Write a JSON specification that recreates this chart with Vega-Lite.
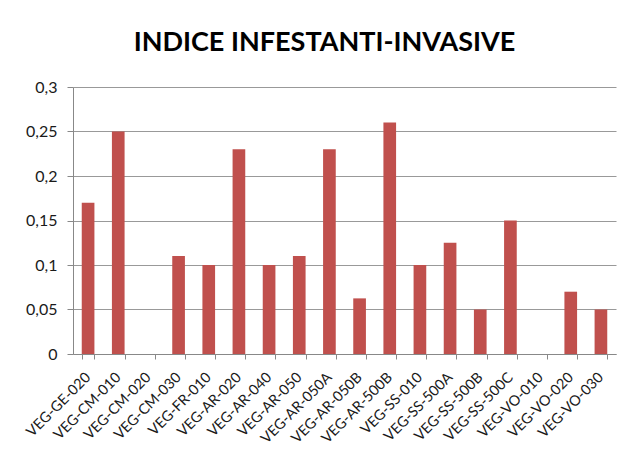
{
  "$schema": "https://vega.github.io/schema/vega-lite/v6.json",
  "width": 543,
  "height": 267,
  "autosize": {"type": "none"},
  "padding": {"left": 73, "top": 87, "right": 8, "bottom": 99},
  "background": "white",
  "config": {
    "locale": {"number": {"decimal": ",", "thousands": ".", "grouping": [3], "currency": ["€", ""]}},
    "view": {"stroke": null},
    "font": "Lato"
  },
  "title": {
    "text": "INDICE INFESTANTI-INVASIVE",
    "fontSize": 27,
    "font": "Lato",
    "fontWeight": "bold",
    "color": "#000000",
    "anchor": "middle",
    "dx": -20,
    "offset": 22
  },
  "data": {
    "values": [
      {"stazione": "VEG-GE-020", "indice": 0.17},
      {"stazione": "VEG-CM-010", "indice": 0.25},
      {"stazione": "VEG-CM-020", "indice": 0},
      {"stazione": "VEG-CM-030", "indice": 0.11},
      {"stazione": "VEG-FR-010", "indice": 0.10},
      {"stazione": "VEG-AR-020", "indice": 0.23},
      {"stazione": "VEG-AR-040", "indice": 0.10},
      {"stazione": "VEG-AR-050", "indice": 0.11},
      {"stazione": "VEG-AR-050A", "indice": 0.23},
      {"stazione": "VEG-AR-050B", "indice": 0.0625},
      {"stazione": "VEG-AR-500B", "indice": 0.26},
      {"stazione": "VEG-SS-010", "indice": 0.10},
      {"stazione": "VEG-SS-500A", "indice": 0.125},
      {"stazione": "VEG-SS-500B", "indice": 0.05},
      {"stazione": "VEG-SS-500C", "indice": 0.15},
      {"stazione": "VEG-VO-010", "indice": 0},
      {"stazione": "VEG-VO-020", "indice": 0.07},
      {"stazione": "VEG-VO-030", "indice": 0.05}
    ]
  },
  "mark": {"type": "bar", "color": "#C0504D"},
  "encoding": {
    "x": {
      "field": "stazione",
      "type": "nominal",
      "sort": null,
      "title": null,
      "scale": {"paddingInner": 0.58, "paddingOuter": 0.29},
      "axis": {
        "labelAngle": -45,
        "labelAlign": "right",
        "labelBaseline": "middle",
        "labelFontSize": 14.5,
        "labelColor": "#1a1a1a",
        "labelPadding": 16,
        "labelOverlap": false,
        "domainColor": "#888888",
        "tickColor": "#888888",
        "tickSize": 5,
        "tickBand": "extent",
        "grid": false
      }
    },
    "y": {
      "field": "indice",
      "type": "quantitative",
      "title": null,
      "scale": {"domain": [0, 0.3], "nice": false},
      "axis": {
        "values": [0, 0.05, 0.1, 0.15, 0.2, 0.25, 0.3],
        "format": ".2~f",
        "labelFontSize": 16,
        "labelColor": "#1a1a1a",
        "labelPadding": 10,
        "domain": true,
        "domainColor": "#888888",
        "tickColor": "#888888",
        "tickSize": 6,
        "gridColor": "#999999",
        "gridWidth": 1
      }
    }
  }
}
